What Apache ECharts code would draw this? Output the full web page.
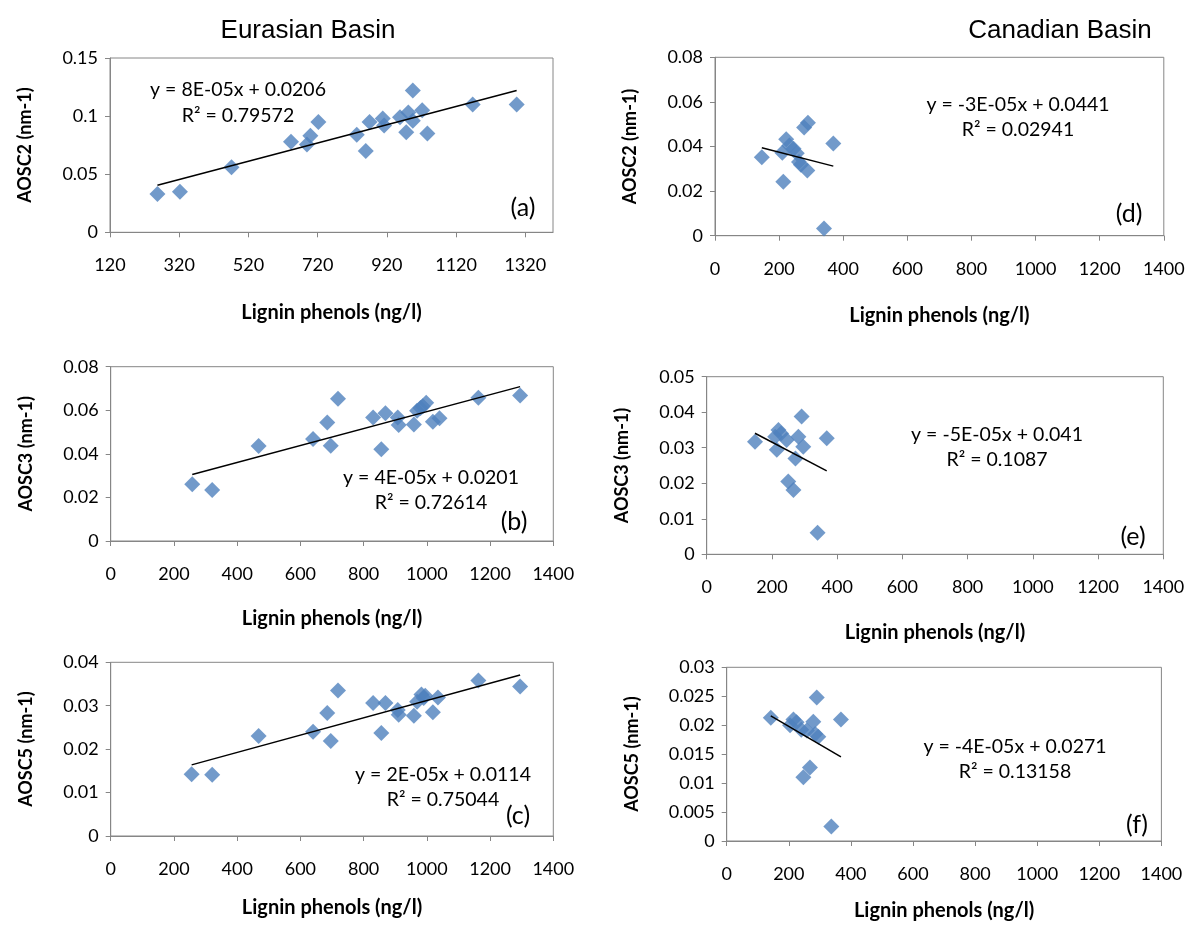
<!DOCTYPE html>
<html>
<head>
<meta charset="utf-8">
<script src="https://cdn.jsdelivr.net/npm/echarts@6/dist/echarts.min.js"></script>
<style>
html,body{margin:0;padding:0;background:#fff;}
#chart{width:1192px;height:934px;}
</style>
</head>
<body>
<div id="chart"></div>
<script>
// ---- Data ----
const eurasianAosc2 = [[257,0.033],[322,0.035],[471,0.056],[643,0.078],[689,0.0755],[699,0.083],[722,0.095],[833,0.084],[859,0.070],[870,0.095],[908,0.098],[912,0.092],[958,0.099],[976,0.086],[982,0.103],[995,0.122],[995,0.096],[1022,0.105],[1037,0.085],[1168,0.110],[1295,0.110]];
const eurasianAosc3 = [[258,0.0261],[321,0.0234],[468,0.0436],[640,0.0468],[685,0.0544],[696,0.0437],[719,0.0653],[830,0.0567],[856,0.0421],[869,0.0586],[908,0.0567],[911,0.0532],[959,0.0535],[969,0.0598],[980,0.0610],[987,0.0619],[998,0.0634],[1019,0.0547],[1040,0.0563],[1163,0.0657],[1295,0.0668]];
const eurasianAosc5 = [[256,0.0142],[321,0.0141],[468,0.0230],[640,0.0240],[685,0.0283],[696,0.0219],[719,0.0335],[830,0.0306],[856,0.0237],[869,0.0306],[908,0.0290],[911,0.0279],[959,0.0277],[969,0.0309],[983,0.0326],[990,0.0318],[995,0.0323],[1019,0.0285],[1035,0.0319],[1163,0.0358],[1295,0.0344]];
const canadianAosc2 = [[146,0.0352],[213,0.0242],[210,0.0372],[222,0.0432],[232,0.0405],[245,0.0390],[255,0.0370],[262,0.0330],[268,0.0318],[278,0.0485],[290,0.0506],[288,0.0292],[340,0.0032],[369,0.0413]];
const canadianAosc3 = [[148,0.0317],[210,0.0331],[215,0.0294],[220,0.0350],[228,0.0340],[245,0.0322],[250,0.0205],[266,0.0181],[272,0.0270],[281,0.0331],[291,0.0388],[296,0.0303],[340,0.0061],[368,0.0327]];
const canadianAosc5 = [[142,0.0213],[204,0.0200],[215,0.0210],[225,0.0205],[240,0.0192],[247,0.0110],[258,0.0191],[268,0.0127],[279,0.0206],[285,0.0185],[290,0.0248],[295,0.0180],[337,0.0025],[368,0.0210]];

const basinTitles = ['Eurasian Basin', 'Canadian Basin'];
const yTitles = ['AOSC2 (nm-1)','AOSC3 (nm-1)','AOSC5 (nm-1)','AOSC2 (nm-1)','AOSC3 (nm-1)','AOSC5 (nm-1)'];
const xTitle = 'Lignin phenols (ng/l)';
const panelLetters = ['(a)','(b)','(c)','(d)','(e)','(f)'];
const equations = [
  ['y = 8E-05x + 0.0206','R\u00B2 = 0.79572'],
  ['y = 4E-05x + 0.0201','R\u00B2 = 0.72614'],
  ['y = 2E-05x + 0.0114','R\u00B2 = 0.75044'],
  ['y = -3E-05x + 0.0441','R\u00B2 = 0.02941'],
  ['y = -5E-05x + 0.041','R\u00B2 = 0.1087'],
  ['y = -4E-05x + 0.0271','R\u00B2 = 0.13158']
];
// axis ranges [min, max, interval]
const xRanges = [[120,1400,200],[0,1400,200],[0,1400,200],[0,1400,200],[0,1400,200],[0,1400,200]];
const yRanges = [[0,0.15,0.05],[0,0.08,0.02],[0,0.04,0.01],[0,0.08,0.02],[0,0.05,0.01],[0,0.03,0.005]];

// ---- Layout (pixels) ----
const grids = [
  {left:110, top:58, width:443, height:174.3},
  {left:110.7, top:366.7, width:442.6, height:174.3},
  {left:110.7, top:662.3, width:442.6, height:173.7},
  {left:715, top:57.3, width:448.8, height:178.4},
  {left:706.7, top:376.7, width:456.6, height:177.6},
  {left:726.7, top:667.3, width:434.7, height:173.7}
];
const xNameGaps = [70, 68, 62, 70, 68, 60];
const yNameGaps = [76, 76, 76, 76, 76, 86];
const eqPos = [[238,90,26],[431,478,25],[443,775,25],[1018,105,25],[997,435,25],[1015,747,25]];
const letterPos = [[523,208],[514,522],[518,816],[1129,214],[1133,537],[1137,825]];

const datasets = [eurasianAosc2, eurasianAosc3, eurasianAosc5, canadianAosc2, canadianAosc3, canadianAosc5];

function trend(data){
  const n = data.length;
  let sx=0, sy=0, sxx=0, sxy=0, mn=Infinity, mx=-Infinity;
  data.forEach(([x,y])=>{sx+=x; sy+=y; sxx+=x*x; sxy+=x*y; mn=Math.min(mn,x); mx=Math.max(mx,x);});
  const b = (n*sxy - sx*sy)/(n*sxx - sx*sx);
  const a = (sy - b*sx)/n;
  return [[mn, a+b*mn],[mx, a+b*mx]];
}

const FONT = 'Lato, "Open Sans", sans-serif';
const AX = '#868686';

const option = {
  animation:false,
  backgroundColor:'#fff',
  grid: grids.map(g => Object.assign({show:true, borderColor:AX, borderWidth:1, backgroundColor:'#fff'}, g)),
  xAxis: grids.map((g,i)=>({
    type:'value', gridIndex:i, min:xRanges[i][0], max:xRanges[i][1], interval:xRanges[i][2],
    splitLine:{show:false},
    axisLine:{show:true, onZero:false, lineStyle:{color:AX, width:1}},
    axisTick:{show:true, inside:false, length:5, lineStyle:{color:AX}},
    axisLabel:{color:'#000', fontFamily:FONT, fontSize:18, margin:24,
      showMaxLabel: i===0 ? false : true, formatter: v => String(v)},
    name:xTitle, nameLocation:'middle', nameGap:xNameGaps[i],
    nameTextStyle:{color:'#000', fontFamily:FONT, fontSize:20, fontWeight:'bold'}
  })),
  yAxis: grids.map((g,i)=>({
    type:'value', gridIndex:i, min:yRanges[i][0], max:yRanges[i][1], interval:yRanges[i][2],
    splitLine:{show:false},
    axisLine:{show:true, onZero:false, lineStyle:{color:AX, width:1}},
    axisTick:{show:true, inside:false, length:5, lineStyle:{color:AX}},
    axisLabel:{color:'#000', fontFamily:FONT, fontSize:18, margin:12},
    name:yTitles[i], nameLocation:'middle', nameGap:yNameGaps[i], nameRotate:90,
    nameTextStyle:{color:'#000', fontFamily:FONT, fontSize:18, fontWeight:'bold'}
  })),
  series: [],
  graphic: []
};

datasets.forEach((d,i)=>{
  option.series.push({
    type:'scatter', xAxisIndex:i, yAxisIndex:i, data:d,
    symbol:'diamond', symbolSize:16,
    itemStyle:{color:'#4F81BD'}, z:2
  });
  option.series.push({
    type:'line', xAxisIndex:i, yAxisIndex:i, data:trend(d),
    showSymbol:false, symbol:'none',
    lineStyle:{color:'#000', width:1.5}, z:3, silent:true
  });
});

// basin titles
option.graphic.push({type:'text', x:308, y:31,
  style:{text:basinTitles[0], font:'26px "Liberation Sans", Arial, sans-serif', fill:'#000', textAlign:'center', textVerticalAlign:'middle'}});
option.graphic.push({type:'text', x:1060, y:31,
  style:{text:basinTitles[1], font:'26px "Liberation Sans", Arial, sans-serif', fill:'#000', textAlign:'center', textVerticalAlign:'middle'}});

equations.forEach((eq,i)=>{
  const [cx,cy,dy] = eqPos[i];
  eq.forEach((line,k)=>{
    option.graphic.push({type:'text', x:cx, y:cy + k*dy, z:10,
      style:{text:line, font:'19.5px Lato, "Open Sans", sans-serif', fill:'#000', textAlign:'center', textVerticalAlign:'middle'}});
  });
  option.graphic.push({type:'text', x:letterPos[i][0], y:letterPos[i][1], z:10,
    style:{text:panelLetters[i], font:'25px Lato, "Open Sans", sans-serif', fill:'#000', textAlign:'center', textVerticalAlign:'middle'}});
});

const chart = echarts.init(document.getElementById('chart'), null, {renderer:'canvas'});
chart.setOption(option);
</script>
</body>
</html>
